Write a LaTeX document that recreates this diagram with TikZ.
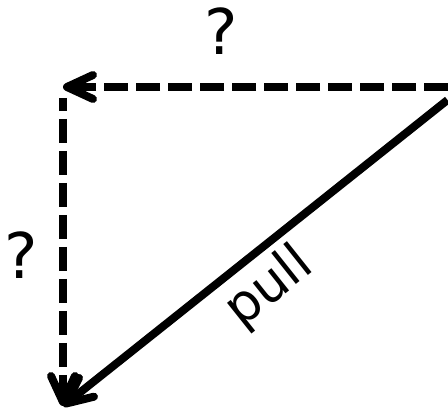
\documentclass[tikz,border=0pt]{standalone}
\usepackage{fontspec}
\setmainfont{DejaVu Sans}
\usetikzlibrary{arrows.meta}
\begin{document}
\begin{tikzpicture}[x=1pt,y=-1pt,
  conn/.style={line width=8pt,-{Straight Barb[length=26pt,width=24pt,round]}},
  dashconn/.style={conn,dash pattern=on 24pt off 8pt},
  qlabel/.style={font=\fontsize{63}{63}\selectfont,inner sep=0pt},
  plabel/.style={font=\fontsize{52}{52}\selectfont,inner sep=0pt,rotate=38.5}]
\useasboundingbox (0,0) rectangle (448,409);
\coordinate (TR) at (448,87);
\coordinate (TL) at (63,87);
\coordinate (VS) at (63,98);
\coordinate (BL) at (63,406);
\coordinate (DS) at (447.5,100);
\draw[dashconn] (TR) -- (TL);
\draw[dashconn,dash phase=11pt] (VS) -- (BL);
\draw[conn] (DS) -- (BL);
\node[qlabel] (q1) at (221.5,31.3) {?};
\node[qlabel] (q2) at (21.5,255) {?};
\node[plabel] (pull) at (269.4,287.9) {pull};
\end{tikzpicture}
\end{document}
